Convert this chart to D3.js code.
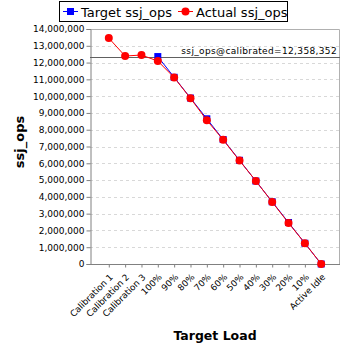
<!DOCTYPE html>
<html>
<head>
<meta charset="utf-8">
<script src="https://cdn.jsdelivr.net/npm/d3@7"></script>
<style>
  html, body { margin: 0; padding: 0; background: #fff; }
  svg { display: block; font-family: "DejaVu Sans", sans-serif; }
</style>
</head>
<body>
<svg id="chart" width="348" height="348"></svg>
<script>
// Load levels along the x axis
const categories = ["Calibration 1", "Calibration 2", "Calibration 3", "100%", "90%", "80%", "70%", "60%", "50%", "40%", "30%", "20%", "10%", "Active Idle"];
// Target throughput per level (null where no target applies)
const targetOps = [null, null, null, 12358352, 11122517, 9886682, 8650846, 7415011, 6179176, 4943341, 3707506, 2471670, 1235835, 0];
// Measured throughput per level
const actualOps = [13460000, 12390000, 12450000, 12090000, 11110000, 9870000, 8560000, 7400000, 6160000, 4950000, 3690000, 2440000, 1240000, 0];
const calibrated = 12358352;
const yTicks = [0, 1000000, 2000000, 3000000, 4000000, 5000000, 6000000, 7000000, 8000000, 9000000, 10000000, 11000000, 12000000, 13000000, 14000000];

const svg = d3.select("#chart");
const plotL = 90, plotR = 340, plotT = 29, plotB = 264;

const x = d3.scalePoint().domain(categories).range([plotL, plotR]).padding(1.15);
const y = d3.scaleLinear().domain([0, 14000000]).range([plotB, plotT]);
const fmt = d3.format(",");

// Horizontal grid
svg.append("g").selectAll("line").data(yTicks.slice(1)).join("line")
  .attr("x1", plotL).attr("x2", plotR)
  .attr("y1", d => Math.round(y(d)) + 0.5).attr("y2", d => Math.round(y(d)) + 0.5)
  .attr("stroke", "#d8d8d8").attr("stroke-dasharray", "3,3");

// Plot frame (top and right)
svg.append("path")
  .attr("d", `M${plotL},${plotT + 0.5}H${plotR - 0.5}V${plotB}`)
  .attr("fill", "none").attr("stroke", "#b0b0b0");

// Y axis
const yAxis = svg.append("g").attr("transform", `translate(${plotL + 0.5},0)`)
  .call(d3.axisLeft(y).tickValues(yTicks).tickFormat(fmt).tickSize(4).tickPadding(2));
yAxis.selectAll("text").attr("font-size", 9).attr("fill", "#000").attr("font-family", "DejaVu Sans, sans-serif");
yAxis.selectAll("line, path").attr("stroke", "#808080");

// X axis
const xAxis = svg.append("g").attr("transform", `translate(0,${plotB + 0.5})`)
  .call(d3.axisBottom(x).tickSize(3).tickSizeOuter(0));
xAxis.select(".domain").attr("d", `M${plotL},0H${plotR}`);
xAxis.selectAll("line, path").attr("stroke", "#808080");
xAxis.selectAll("text")
  .attr("font-size", 8.8).attr("fill", "#000").attr("font-family", "DejaVu Sans, sans-serif")
  .attr("text-anchor", "end")
  .attr("transform", "translate(2,11) rotate(-45)")
  .attr("dy", "0.35em").attr("y", 0).attr("x", 0);

// Calibration reference line
svg.append("line")
  .attr("x1", plotL).attr("x2", plotR)
  .attr("y1", Math.round(y(calibrated)) + 0.5).attr("y2", Math.round(y(calibrated)) + 0.5)
  .attr("stroke", "#606060");
svg.append("text")
  .attr("x", plotR - 3).attr("y", y(calibrated) - 3)
  .attr("text-anchor", "end").attr("font-size", 9).attr("letter-spacing", 0.35)
  .text("ssj_ops@calibrated=" + fmt(calibrated));

// Target series
const tPts = categories.map((c, i) => ({ c, v: targetOps[i] })).filter(d => d.v !== null);
svg.append("path").datum(tPts)
  .attr("d", d3.line().x(d => x(d.c)).y(d => y(d.v)))
  .attr("fill", "none").attr("stroke", "#0000ff").attr("stroke-width", 1);
svg.append("g").selectAll("rect").data(tPts).join("rect")
  .attr("x", d => x(d.c) - 3.5).attr("y", d => y(d.v) - 3.5)
  .attr("width", 7).attr("height", 7).attr("fill", "#0000ff");

// Actual series
const aPts = categories.map((c, i) => ({ c, v: actualOps[i] }));
svg.append("path").datum(aPts)
  .attr("d", d3.line().x(d => x(d.c)).y(d => y(d.v)))
  .attr("fill", "none").attr("stroke", "#ff0000").attr("stroke-width", 1);
svg.append("g").selectAll("circle").data(aPts).join("circle")
  .attr("cx", d => x(d.c)).attr("cy", d => y(d.v)).attr("r", 4)
  .attr("fill", "#ff0000");

// Axis titles
svg.append("text")
  .attr("transform", `translate(24,142) rotate(-90)`)
  .attr("text-anchor", "middle").attr("font-size", 13).attr("font-weight", "bold")
  .text("ssj_ops");
svg.append("text")
  .attr("x", 215).attr("y", 340)
  .attr("text-anchor", "middle").attr("font-size", 12.5).attr("font-weight", "bold")
  .text("Target Load");

// Legend
const lg = svg.append("g");
lg.append("rect").attr("x", 59.5).attr("y", 1.5).attr("width", 228).attr("height", 20)
  .attr("fill", "#fff").attr("stroke", "#000");
lg.append("line").attr("x1", 63).attr("x2", 78).attr("y1", 11.5).attr("y2", 11.5).attr("stroke", "#0000ff");
lg.append("rect").attr("x", 67).attr("y", 8).attr("width", 7).attr("height", 7).attr("fill", "#0000ff");
lg.append("text").attr("x", 81).attr("y", 16.5).attr("font-size", 13).text("Target ssj_ops");
lg.append("line").attr("x1", 178).attr("x2", 193).attr("y1", 11.5).attr("y2", 11.5).attr("stroke", "#ff0000");
lg.append("circle").attr("cx", 185.5).attr("cy", 11.5).attr("r", 4).attr("fill", "#ff0000");
lg.append("text").attr("x", 196).attr("y", 16.5).attr("font-size", 13).text("Actual ssj_ops");
</script>
</body>
</html>
